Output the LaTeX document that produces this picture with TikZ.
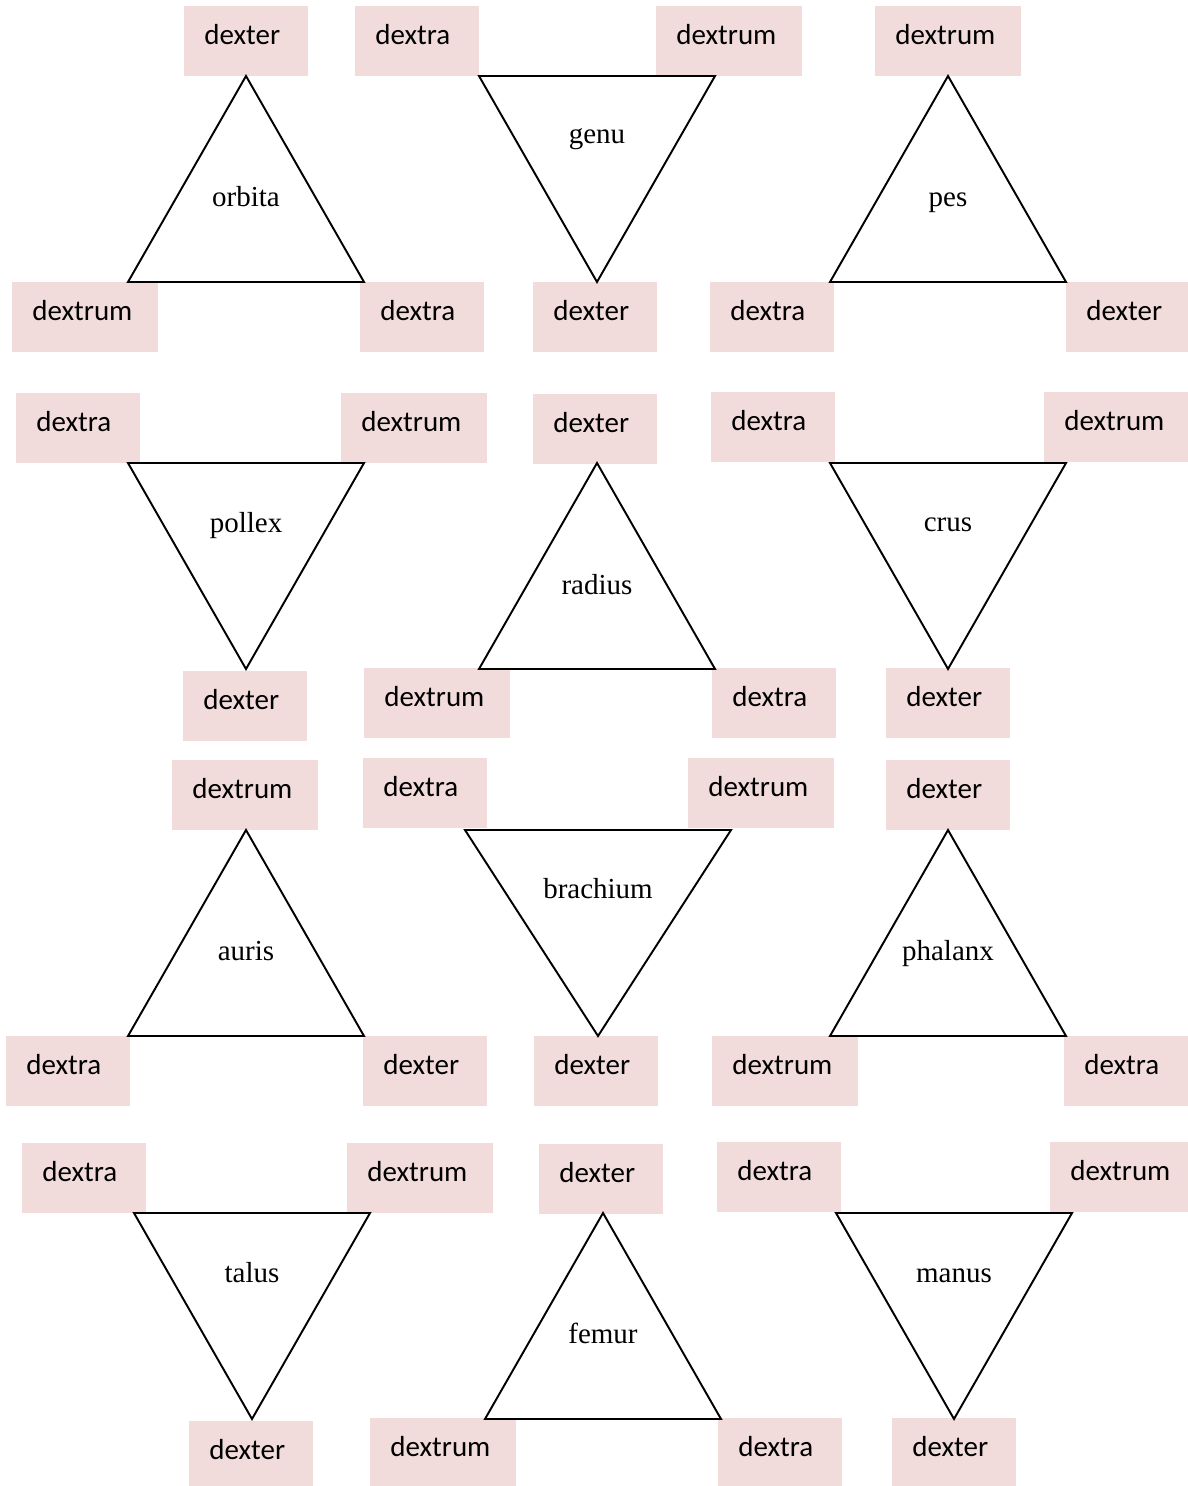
\documentclass[tikz,border=0pt]{standalone}
\usepackage{fontspec}
\setmainfont{Liberation Serif}
\newfontfamily\tagfont{Carlito}
\usepackage{tikz}
\usetikzlibrary{positioning,calc}
\definecolor{tagpink}{HTML}{F2DCDB}
\tikzstyle{box1} = [rectangle, fill=tagpink, anchor=north west, inner xsep=0.4cm, %
   inner ysep=0pt, text height=21.5pt, text depth=18.3pt, text width=1.68cm, align=left, %
   font=\tagfont\fontsize{16.5}{20}\selectfont]
\tikzstyle{box2} = [box1, text width=2.12cm]
\tikzstyle{tri} = [draw, line width=1.1pt, line join=miter]
\tikzstyle{trilabel} = [anchor=base, inner sep=0pt, font=\fontsize{16.5}{20}\selectfont]

\begin{document}
\begin{tikzpicture}[x=0.02cm, y=-0.02cm]
   \useasboundingbox (0,0) rectangle (1187,1486);

% ROW 1 %%%%%%%%%%%%%%%%%%%%%%%%%%%%%%%%%%%%%%%%%%%%%%%%%%%%%%%%%%%%%%
   % orbita
   \node[box1] (orbita_top) at (184,6) {dexter};
   \node[box2] (orbita_left) at (12,282) {dextrum};
   \node[box1] (orbita_right) at (360,282) {dextra};
   \draw[tri] (128,282) -- (246,76) -- (364,282) -- cycle;
   \node[trilabel] (orbita) at (246,207) {orbita};

   % genu
   \node[box1] (genu_left) at (355,6) {dextra};
   \node[box2] (genu_right) at (656,6) {dextrum};
   \node[box1] (genu_bot) at (533,282) {dexter};
   \draw[tri] (479,76) -- (715,76) -- (597,282) -- cycle;
   \node[trilabel] (genu) at (597,144) {genu};

   % pes
   \node[box2] (pes_top) at (875,6) {dextrum};
   \node[box1] (pes_left) at (710,282) {dextra};
   \node[box1] (pes_right) at (1066,282) {dexter};
   \draw[tri] (830,282) -- (948,76) -- (1066,282) -- cycle;
   \node[trilabel] (pes) at (948,207) {pes};

% ROW 2 %%%%%%%%%%%%%%%%%%%%%%%%%%%%%%%%%%%%%%%%%%%%%%%%%%%%%%%%%%%%%%
   % pollex
   \node[box1] (pollex_left) at (16,393) {dextra};
   \node[box2] (pollex_right) at (341,393) {dextrum};
   \node[box1] (pollex_bot) at (183,671) {dexter};
   \draw[tri] (128,463) -- (364,463) -- (246,669) -- cycle;
   \node[trilabel] (pollex) at (246,532) {pollex};

   % radius
   \node[box1] (radius_top) at (533,394) {dexter};
   \node[box2] (radius_left) at (364,668) {dextrum};
   \node[box1] (radius_right) at (712,668) {dextra};
   \draw[tri] (479,669) -- (597,463) -- (715,669) -- cycle;
   \node[trilabel] (radius) at (597,594) {radius};

   % crus
   \node[box1] (crus_left) at (711,392) {dextra};
   \node[box2] (crus_right) at (1044,392) {dextrum};
   \node[box1] (crus_bot) at (886,668) {dexter};
   \draw[tri] (830,463) -- (1066,463) -- (948,669) -- cycle;
   \node[trilabel] (crus) at (948,531) {crus};

% ROW 3 %%%%%%%%%%%%%%%%%%%%%%%%%%%%%%%%%%%%%%%%%%%%%%%%%%%%%%%%%%%%%%
   % auris
   \node[box2] (auris_top) at (172,760) {dextrum};
   \node[box1] (auris_left) at (6,1036) {dextra};
   \node[box1] (auris_right) at (363,1036) {dexter};
   \draw[tri] (128,1036) -- (246,830) -- (364,1036) -- cycle;
   \node[trilabel] (auris) at (246,960) {auris};

   % brachium
   \node[box1] (brachium_left) at (363,758) {dextra};
   \node[box2] (brachium_right) at (688,758) {dextrum};
   \node[box1] (brachium_bot) at (534,1036) {dexter};
   \draw[tri] (465,830) -- (731,830) -- (598,1036) -- cycle;
   \node[trilabel] (brachium) at (598,898) {brachium};

   % phalanx
   \node[box1] (phalanx_top) at (886,760) {dexter};
   \node[box2] (phalanx_left) at (712,1036) {dextrum};
   \node[box1] (phalanx_right) at (1064,1036) {dextra};
   \draw[tri] (830,1036) -- (948,830) -- (1066,1036) -- cycle;
   \node[trilabel] (phalanx) at (948,960) {phalanx};

% ROW 4 %%%%%%%%%%%%%%%%%%%%%%%%%%%%%%%%%%%%%%%%%%%%%%%%%%%%%%%%%%%%%%
   % talus
   \node[box1] (talus_left) at (22,1143) {dextra};
   \node[box2] (talus_right) at (347,1143) {dextrum};
   \node[box1] (talus_bot) at (189,1421) {dexter};
   \draw[tri] (134,1213) -- (370,1213) -- (252,1419) -- cycle;
   \node[trilabel] (talus) at (252,1282) {talus};

   % femur
   \node[box1] (femur_top) at (539,1144) {dexter};
   \node[box2] (femur_left) at (370,1418) {dextrum};
   \node[box1] (femur_right) at (718,1418) {dextra};
   \draw[tri] (485,1419) -- (603,1213) -- (721,1419) -- cycle;
   \node[trilabel] (femur) at (603,1343) {femur};

   % manus
   \node[box1] (manus_left) at (717,1142) {dextra};
   \node[box2] (manus_right) at (1050,1142) {dextrum};
   \node[box1] (manus_bot) at (892,1418) {dexter};
   \draw[tri] (836,1213) -- (1072,1213) -- (954,1419) -- cycle;
   \node[trilabel] (manus) at (954,1282) {manus};

\end{tikzpicture}
\end{document}
